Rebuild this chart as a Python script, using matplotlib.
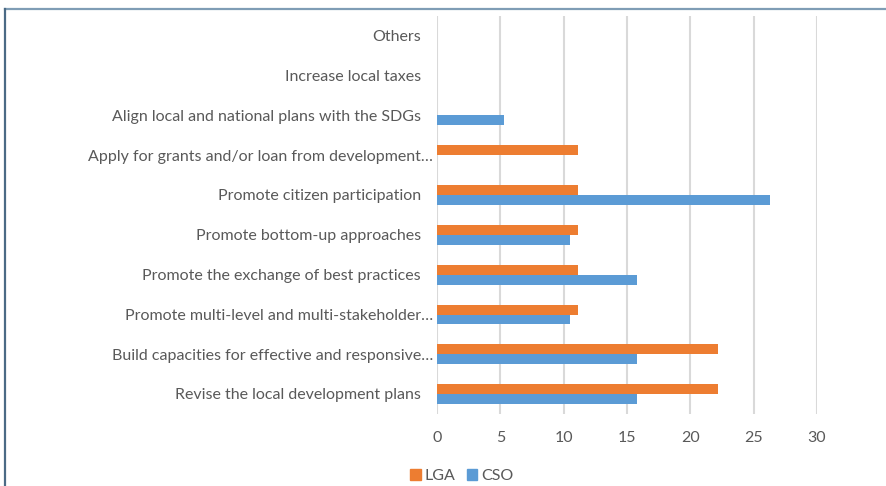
import matplotlib
matplotlib.use('Agg')
import matplotlib.pyplot as plt
from matplotlib.lines import Line2D
from matplotlib.patches import Patch
import numpy as np

plt.rcParams['font.family'] = ['Lato', 'DejaVu Sans']

# categories, bottom to top
categories = [
    'Revise the local development plans',
    'Build capacities for effective and responsive…',
    'Promote multi-level and multi-stakeholder…',
    'Promote the exchange of best practices',
    'Promote bottom-up approaches',
    'Promote citizen participation',
    'Apply for grants and/or loan from development…',
    'Align local and national plans with the SDGs',
    'Increase local taxes',
    'Others',
]
lga = [22.2, 22.2, 11.1, 11.1, 11.1, 11.1, 11.1, 0, 0, 0]
cso = [15.8, 15.8, 10.5, 15.8, 10.5, 26.3, 0, 5.3, 0, 0]
xticks = [0, 5, 10, 15, 20, 25, 30]

orange = '#ED7D31'
blue = '#5B9BD5'
grey_txt = '#595959'
grid_col = '#D9D9D9'
fs = 11.5

W, H = 886, 486
fig = plt.figure(figsize=(W / 100, H / 100), dpi=100)
ax = fig.add_axes([437 / W, 1 - 414 / H, (817 - 437) / W, (414 - 16) / H])

y = np.arange(len(categories))
bh = 0.25
ax.barh(y + bh / 2, lga, height=bh, color=orange, label='LGA')
ax.barh(y - bh / 2, cso, height=bh, color=blue, label='CSO')

ax.set_xlim(0, 30)
ax.set_ylim(-0.5, len(categories) - 0.5)
ax.set_xticks(xticks)
ax.set_xticklabels([str(t) for t in xticks])
ax.set_yticks([])
ax.tick_params(axis='x', length=0, pad=12.5, labelsize=fs, labelcolor=grey_txt)
for s in ['top', 'right', 'bottom', 'left']:
    ax.spines[s].set_visible(False)
ax.grid(axis='x', color=grid_col, linewidth=1.5)
ax.set_axisbelow(True)

# category labels (truncated ones sit a little closer to the axis)
for yi, lab in zip(y, categories):
    off = -4 if lab.endswith('…') else -16
    ax.annotate(lab, xy=(0, yi), xycoords=('axes fraction', 'data'),
                xytext=(off * 0.72, -1), textcoords='offset points',
                ha='right', va='center', fontsize=fs, color=grey_txt)

handles = [Patch(color=orange, label='LGA'), Patch(color=blue, label='CSO')]
fig.legend(handles=handles, loc='center', bbox_to_anchor=(462 / W, 1 - 476 / H),
           ncol=2, frameon=False, fontsize=fs, labelcolor=grey_txt,
           handlelength=0.65, handleheight=0.65, handletextpad=0.25, columnspacing=0.7)

# chart frame (top and left edges visible)
fig.add_artist(Line2D([5 / W, 1], [1 - 9.5 / H, 1 - 9.5 / H], color='#7F9DB5', linewidth=1.6))
fig.add_artist(Line2D([5 / W, 5 / W], [0, 1 - 9.5 / H], color='#4B6A85', linewidth=1.6))

fig.savefig('out.png', dpi=100)
